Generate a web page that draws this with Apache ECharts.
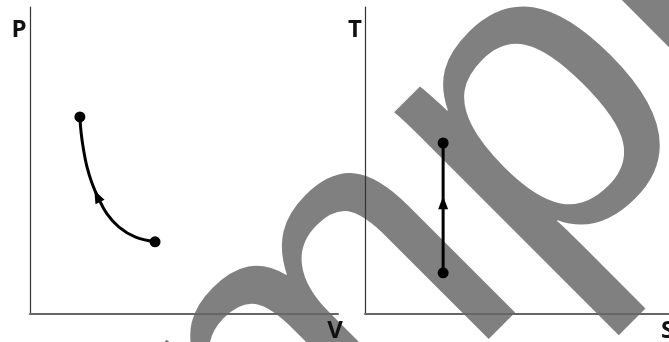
<!DOCTYPE html>
<html>
<head>
<meta charset="utf-8">
<script src="https://cdn.jsdelivr.net/npm/echarts@6/dist/echarts.min.js"></script>
<style>
  html, body { margin: 0; padding: 0; background: #fff; }
  #chart { width: 669px; height: 342px; }
</style>
</head>
<body>
<div id="chart"></div>
<script>
// P–V diagram: compression curve (volume, pressure)
const pvVolume   = [4.06, 3.41, 2.89, 2.50, 2.22, 2.01, 1.85, 1.74, 1.66, 1.62];
const pvPressure = [2.35, 2.51, 2.83, 3.26, 3.78, 4.27, 4.79, 5.34, 5.90, 6.42];
// direction marker on the P–V curve
const pvArrow = [2.18, 3.84];

// T–S diagram: isentropic step (entropy, temperature)
const tsEntropy     = [2.57, 2.57];
const tsTemperature = [1.34, 5.57];
const tsArrow = [2.57, 3.62];

const axisNames = { p: 'P', v: 'V', t: 'T', s: 'S' };

const chart = echarts.init(document.getElementById('chart'), null, { renderer: 'canvas' });

function valueAxis(idx, lineWidth, color) {
  return {
    type: 'value', gridIndex: idx, min: 0, max: 10,
    axisLine: { show: true, onZero: false, lineStyle: { color: color, width: lineWidth } },
    axisTick: { show: false }, axisLabel: { show: false }, splitLine: { show: false }
  };
}

function axisLabelText(str, x, y, align) {
  return {
    type: 'text', x: x, y: y, z: 10,
    style: { text: str, fontSize: 24, fontWeight: 'bold', fontFamily: '"Open Sans", sans-serif',
             fill: '#111', align: align || 'center', verticalAlign: 'middle' }
  };
}

const pvPoints = pvVolume.map((v, i) => ({
  value: [v, pvPressure[i]],
  symbolSize: (i === 0 || i === pvVolume.length - 1) ? 11 : 0
}));
const tsPoints = tsEntropy.map((s, i) => [s, tsTemperature[i]]);

chart.setOption({
  animation: false,
  grid: [
    { left: 30, top: 7, width: 308, height: 307 },
    { left: 365, top: 7, width: 304, height: 307 }
  ],
  xAxis: [valueAxis(0, 2, '#666'), valueAxis(1, 2, '#666')],
  yAxis: [valueAxis(0, 1.2, '#333'), valueAxis(1, 1.2, '#333')],
  graphic: [
    {
      type: 'text', x: 367, y: 293, rotation: Math.PI / 4, z: -5, silent: true,
      style: { text: 'sample', fontSize: 430, fontFamily: '"Liberation Sans", sans-serif',
               fill: '#808080', align: 'center', verticalAlign: 'middle' }
    },
    axisLabelText(axisNames.p, 19, 30),
    axisLabelText(axisNames.t, 355, 30),
    axisLabelText(axisNames.v, 335, 331),
    axisLabelText(axisNames.s, 661, 331, 'left')
  ],
  series: [
    {
      type: 'line', xAxisIndex: 0, yAxisIndex: 0, data: pvPoints, smooth: 0.4,
      lineStyle: { color: '#000', width: 3 },
      symbol: 'circle', itemStyle: { color: '#000' }, showSymbol: true
    },
    {
      type: 'scatter', xAxisIndex: 0, yAxisIndex: 0, data: [pvArrow],
      symbol: 'triangle', symbolSize: [10, 13], symbolRotate: 26,
      itemStyle: { color: '#000', opacity: 1 }, z: 4
    },
    {
      type: 'line', xAxisIndex: 1, yAxisIndex: 1, data: tsPoints,
      lineStyle: { color: '#000', width: 3 },
      symbol: 'circle', symbolSize: 11, itemStyle: { color: '#000' }
    },
    {
      type: 'scatter', xAxisIndex: 1, yAxisIndex: 1, data: [tsArrow],
      symbol: 'triangle', symbolSize: [10, 13],
      itemStyle: { color: '#000', opacity: 1 }, z: 4
    }
  ]
});
</script>
</body>
</html>
